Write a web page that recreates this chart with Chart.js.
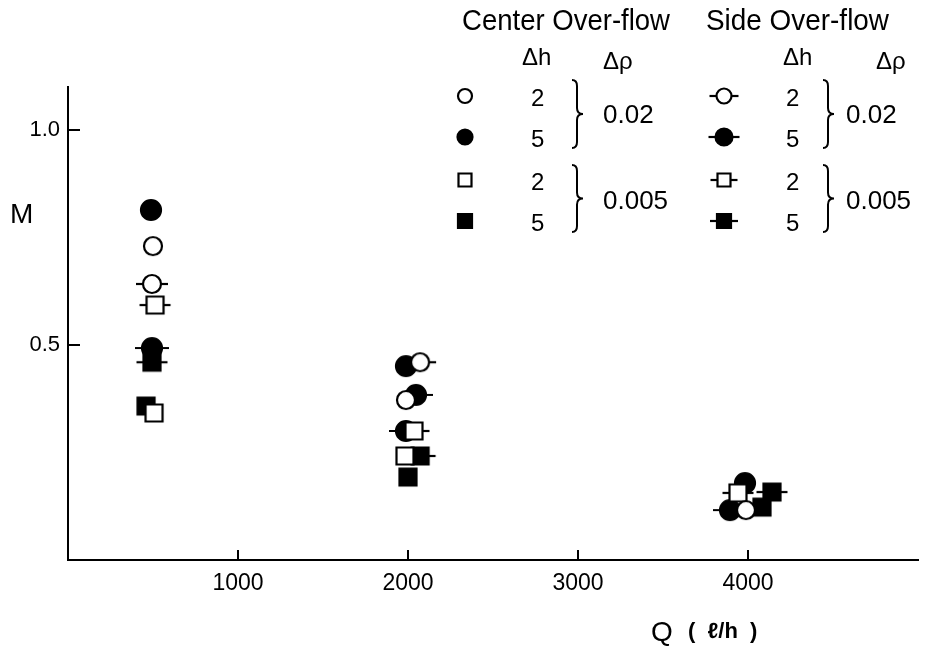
<!DOCTYPE html>
<html>
<head>
<meta charset="utf-8">
<script src="https://cdn.jsdelivr.net/npm/chart.js@4.4.1/dist/chart.umd.min.js"></script>
<style>
  html, body { margin: 0; padding: 0; background: #fff; }
</style>
</head>
<body>
<canvas id="chart" width="931" height="649"></canvas>
<script>
// tick labels
const xTicks = [1000, 2000, 3000, 4000];
const yTicks = [0.5, 1.0];

// Center over-flow series (Q, M)
const centerH2R02 = [{ x: 500, y: 0.730 }, { x: 1988, y: 0.372 }, { x: 3988, y: 0.116 }];
const centerH5R02 = [{ x: 488, y: 0.814 }, { x: 1988, y: 0.451 }, { x: 3982, y: 0.179 }];
const centerH2R005 = [{ x: 506, y: 0.342 }, { x: 1982, y: 0.242 }];
const centerH5R005 = [{ x: 459, y: 0.358 }, { x: 2000, y: 0.193 }, { x: 4082, y: 0.123 }];

// Side over-flow series (Q, M)
const sideH2R02 = [{ x: 494, y: 0.642 }, { x: 2071, y: 0.460 }];
const sideH5R02 = [{ x: 494, y: 0.493 }, { x: 2047, y: 0.384 }, { x: 1988, y: 0.300 }, { x: 3894, y: 0.116 }];
const sideH2R005 = [{ x: 512, y: 0.593 }, { x: 2035, y: 0.300 }, { x: 3941, y: 0.156 }];
const sideH5R005 = [{ x: 494, y: 0.460 }, { x: 2071, y: 0.242 }, { x: 4141, y: 0.158 }];

// marker images
function makeMarker(shape, filled, whiskers, size) {
    const w = 44, h = 28;
    const c = document.createElement('canvas');
    c.width = w; c.height = h;
    const g = c.getContext('2d');
    const cx = w / 2, cy = h / 2;
    g.lineWidth = 2.2;
    g.strokeStyle = '#000';
    g.fillStyle = filled ? '#000' : '#fff';
    if (whiskers) {
        g.beginPath();
        g.moveTo(cx - size / 2 - 7, cy);
        g.lineTo(cx + size / 2 + 7, cy);
        g.stroke();
    }
    g.beginPath();
    if (shape === 'circle') g.arc(cx, cy, size / 2, 0, Math.PI * 2);
    else g.rect(cx - size / 2, cy - size / 2, size, size);
    g.fill();
    g.stroke();
    return c;
}

const mk = {
    cOpenCircle: makeMarker('circle', false, false, 18),
    cFillCircle: makeMarker('circle', true, false, 20),
    cOpenSquare: makeMarker('square', false, false, 17),
    cFillSquare: makeMarker('square', true, false, 17),
    sOpenCircle: makeMarker('circle', false, true, 18),
    sFillCircle: makeMarker('circle', true, true, 20),
    sOpenSquare: makeMarker('square', false, true, 17),
    sFillSquare: makeMarker('square', true, true, 17)
};
const lg = {
    cOpenCircle: makeMarker('circle', false, false, 14),
    cFillCircle: makeMarker('circle', true, false, 15),
    cOpenSquare: makeMarker('square', false, false, 13),
    cFillSquare: makeMarker('square', true, false, 14),
    sOpenCircle: makeMarker('circle', false, true, 15),
    sFillCircle: makeMarker('circle', true, true, 17),
    sOpenSquare: makeMarker('square', false, true, 13),
    sFillSquare: makeMarker('square', true, true, 14)
};

function ds(label, data, img) {
    return { label: label, data: data, pointStyle: img, pointRadius: 10, showLine: false };
}

const FONT = '"Liberation Sans Narrow", "Liberation Sans", sans-serif';

function brace(g, x, y1, y2) {
    const ym = (y1 + y2) / 2;
    g.beginPath();
    g.moveTo(x - 5, y1);
    g.quadraticCurveTo(x, y1, x, y1 + 6);
    g.lineTo(x, ym - 6);
    g.quadraticCurveTo(x, ym, x + 6, ym);
    g.quadraticCurveTo(x, ym, x, ym + 6);
    g.lineTo(x, y2 - 6);
    g.quadraticCurveTo(x, y2, x - 5, y2);
    g.stroke();
}

const decor = {
    id: 'decor',
    afterDraw(chart) {
        const g = chart.ctx;
        const xs = chart.scales.x, ys = chart.scales.y;
        g.save();
        g.strokeStyle = '#000';
        g.fillStyle = '#000';
        g.lineWidth = 2;
        // inward tick marks
        const x0 = xs.left, y0 = ys.bottom;
        xTicks.forEach(v => {
            const px = xs.getPixelForValue(v);
            g.beginPath(); g.moveTo(px, y0); g.lineTo(px, y0 - 10); g.stroke();
        });
        yTicks.forEach(v => {
            const py = ys.getPixelForValue(v);
            g.beginPath(); g.moveTo(x0, py); g.lineTo(x0 + 12, py); g.stroke();
        });

        // axis titles
        g.textBaseline = 'middle';
        g.textAlign = 'left';
        g.font = '28px ' + FONT;
        g.fillText('M', 10, 215);
        g.fillText('Q', 651, 633);
        g.font = 'bold 22px ' + FONT;
        g.fillText('(  ℓ/h  )', 688, 632, 94);

        // legend
        g.font = '29px ' + FONT;
        g.fillText('Center Over-flow', 462, 22, 208);
        g.fillText('Side Over-flow', 706, 22, 183);
        g.font = '24px ' + FONT;
        g.fillText('Δh', 522, 58);
        g.fillText('Δρ', 603, 62);
        g.fillText('Δh', 783, 58);
        g.fillText('Δρ', 876, 62);

        const rowsY = [96, 137, 180, 221];
        const cImgs = [lg.cOpenCircle, lg.cFillCircle, lg.cOpenSquare, lg.cFillSquare];
        const sImgs = [lg.sOpenCircle, lg.sFillCircle, lg.sOpenSquare, lg.sFillSquare];
        const dh = ['2', '5', '2', '5'];
        g.font = '24px ' + FONT;
        rowsY.forEach((y, i) => {
            g.drawImage(cImgs[i], 465 - 22, y - 14);
            g.drawImage(sImgs[i], 724 - 22, y - 14);
            g.fillText(dh[i], 531, y + 3);
            g.fillText(dh[i], 786, y + 3);
        });
        g.lineWidth = 2;
        brace(g, 577, 80, 148);
        brace(g, 577, 165, 232);
        brace(g, 828, 80, 148);
        brace(g, 828, 165, 232);
        g.font = '26px ' + FONT;
        g.fillText('0.02', 603, 116);
        g.fillText('0.005', 603, 202);
        g.fillText('0.02', 846, 116);
        g.fillText('0.005', 846, 202);
        g.restore();
    }
};

new Chart(document.getElementById('chart').getContext('2d'), {
    type: 'scatter',
    data: {
        datasets: [
            ds('Center Δh=2 Δρ=0.02', centerH2R02, mk.cOpenCircle),
            ds('Center Δh=2 Δρ=0.005', centerH2R005, mk.cOpenSquare),
            ds('Side Δh=2 Δρ=0.02', sideH2R02, mk.sOpenCircle),
            ds('Side Δh=2 Δρ=0.005', sideH2R005, mk.sOpenSquare),
            ds('Center Δh=5 Δρ=0.005', centerH5R005, mk.cFillSquare),
            ds('Side Δh=5 Δρ=0.005', sideH5R005, mk.sFillSquare),
            ds('Side Δh=5 Δρ=0.02', sideH5R02, mk.sFillCircle),
            ds('Center Δh=5 Δρ=0.02', centerH5R02, mk.cFillCircle)
        ]
    },
    options: {
        responsive: false,
        animation: false,
        devicePixelRatio: 1,
        layout: { padding: { left: 0, right: 13, top: 87, bottom: 0 } },
        plugins: {
            legend: { display: false },
            tooltip: { enabled: false }
        },
        scales: {
            x: {
                type: 'linear',
                min: 0,
                max: 5000,
                grid: { display: false, drawTicks: false },
                border: { display: true, color: '#000', width: 2 },
                afterBuildTicks: s => { s.ticks = xTicks.map(v => ({ value: v })); },
                afterFit: s => { s.height = 89; },
                ticks: {
                    color: '#000',
                    padding: 10,
                    autoSkip: false,
                    maxRotation: 0,
                    font: { family: FONT, size: 23 },
                    callback: v => String(v)
                }
            },
            y: {
                type: 'linear',
                min: 0,
                max: 1.1,
                grid: { display: false, drawTicks: false },
                border: { display: true, color: '#000', width: 2 },
                afterBuildTicks: s => { s.ticks = yTicks.map(v => ({ value: v })); },
                afterFit: s => { s.width = 68; },
                ticks: {
                    color: '#000',
                    padding: 8,
                    font: { family: FONT, size: 22 },
                    callback: v => v.toFixed(1)
                }
            }
        }
    },
    plugins: [decor]
});
</script>
</body>
</html>
